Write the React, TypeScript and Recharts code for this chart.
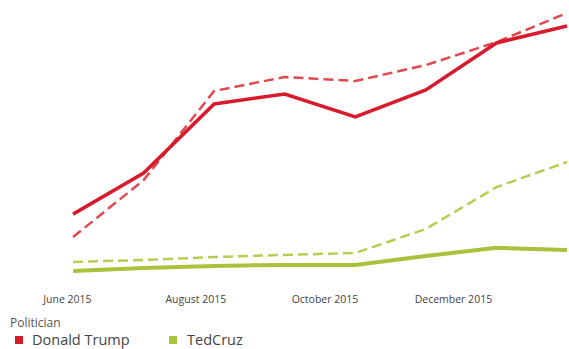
import { LineChart, Line, XAxis, YAxis } from "recharts";

// month index: 0 = June 2015 ... 7 = January 2016
const months = [0, 1, 2, 3, 4, 5, 6, 7];
const trump = [24.4, 39.6, 65.2, 68.9, 60.4, 70.4, 87.8, 94.1];
const trumpTrend = [15.9, 37.0, 70.0, 75.2, 73.7, 79.6, 88.1, 98.9];
const cruz = [3.3, 4.4, 5.2, 5.6, 5.6, 8.9, 11.9, 11.1];
const cruzTrend = [6.7, 7.4, 8.5, 9.3, 10.0, 18.9, 34.4, 43.7];

const tickMonths = [-0.08, 1.74, 3.57, 5.39];
const tickLabels = ["June 2015", "August 2015", "October 2015", "December 2015"];

const data = months.map((m, i) => ({
  month: m,
  trump: trump[i],
  trumpTrend: trumpTrend[i],
  cruz: cruz[i],
  cruzTrend: cruzTrend[i],
}));

const FONT = "'Open Sans', 'Noto Sans', sans-serif";
const RED = "#d81b2c";
const RED_LIGHT = "#e0494f";
const GREEN = "#a9c23c";
const GREEN_LIGHT = "#b8cc52";

export default function App() {
  return (
    <div
      style={{
        position: "absolute",
        left: 0,
        top: 0,
        width: 569,
        height: 349,
        background: "#fff",
        fontFamily: FONT,
      }}
    >
      <LineChart
        width={569}
        height={310}
        data={data}
        margin={{ top: 10, right: 2, left: 66, bottom: 0 }}
      >
        <XAxis
          dataKey="month"
          type="number"
          domain={[-0.1, 7]}
          ticks={tickMonths}
          tickFormatter={(v: number) => tickLabels[tickMonths.indexOf(v)] ?? ""}
          axisLine={false}
          tickLine={false}
          tickMargin={10}
          height={30}
          tick={{ fontSize: 10.5, fill: "#444", fontFamily: FONT }}
          interval={0}
        />
        <YAxis hide domain={[0, 100]} />
        <Line
          type="linear"
          dataKey="trumpTrend"
          stroke={RED_LIGHT}
          strokeWidth={2.5}
          strokeDasharray="10 5"
          dot={false}
          isAnimationActive={false}
        />
        <Line
          type="linear"
          dataKey="trump"
          stroke={RED}
          strokeWidth={3.5}
          dot={false}
          isAnimationActive={false}
        />
        <Line
          type="linear"
          dataKey="cruzTrend"
          stroke={GREEN_LIGHT}
          strokeWidth={2.5}
          strokeDasharray="10 5"
          dot={false}
          isAnimationActive={false}
        />
        <Line
          type="linear"
          dataKey="cruz"
          stroke={GREEN}
          strokeWidth={4}
          dot={false}
          isAnimationActive={false}
        />
      </LineChart>

      {/* legend */}
      <div
        style={{
          position: "absolute",
          left: 10,
          top: 314,
          fontSize: 12,
          color: "#555",
        }}
      >
        Politician
      </div>
      <div
        style={{
          position: "absolute",
          left: 15,
          top: 330,
          display: "flex",
          alignItems: "center",
          fontSize: 14.5,
          color: "#444",
          lineHeight: "19px",
        }}
      >
        <span style={{ width: 8, height: 8, background: RED, marginRight: 9 }} />
        <span style={{ width: 137 }}>Donald Trump</span>
        <span style={{ width: 8, height: 8, background: GREEN, marginRight: 10 }} />
        <span>TedCruz</span>
      </div>
    </div>
  );
}
